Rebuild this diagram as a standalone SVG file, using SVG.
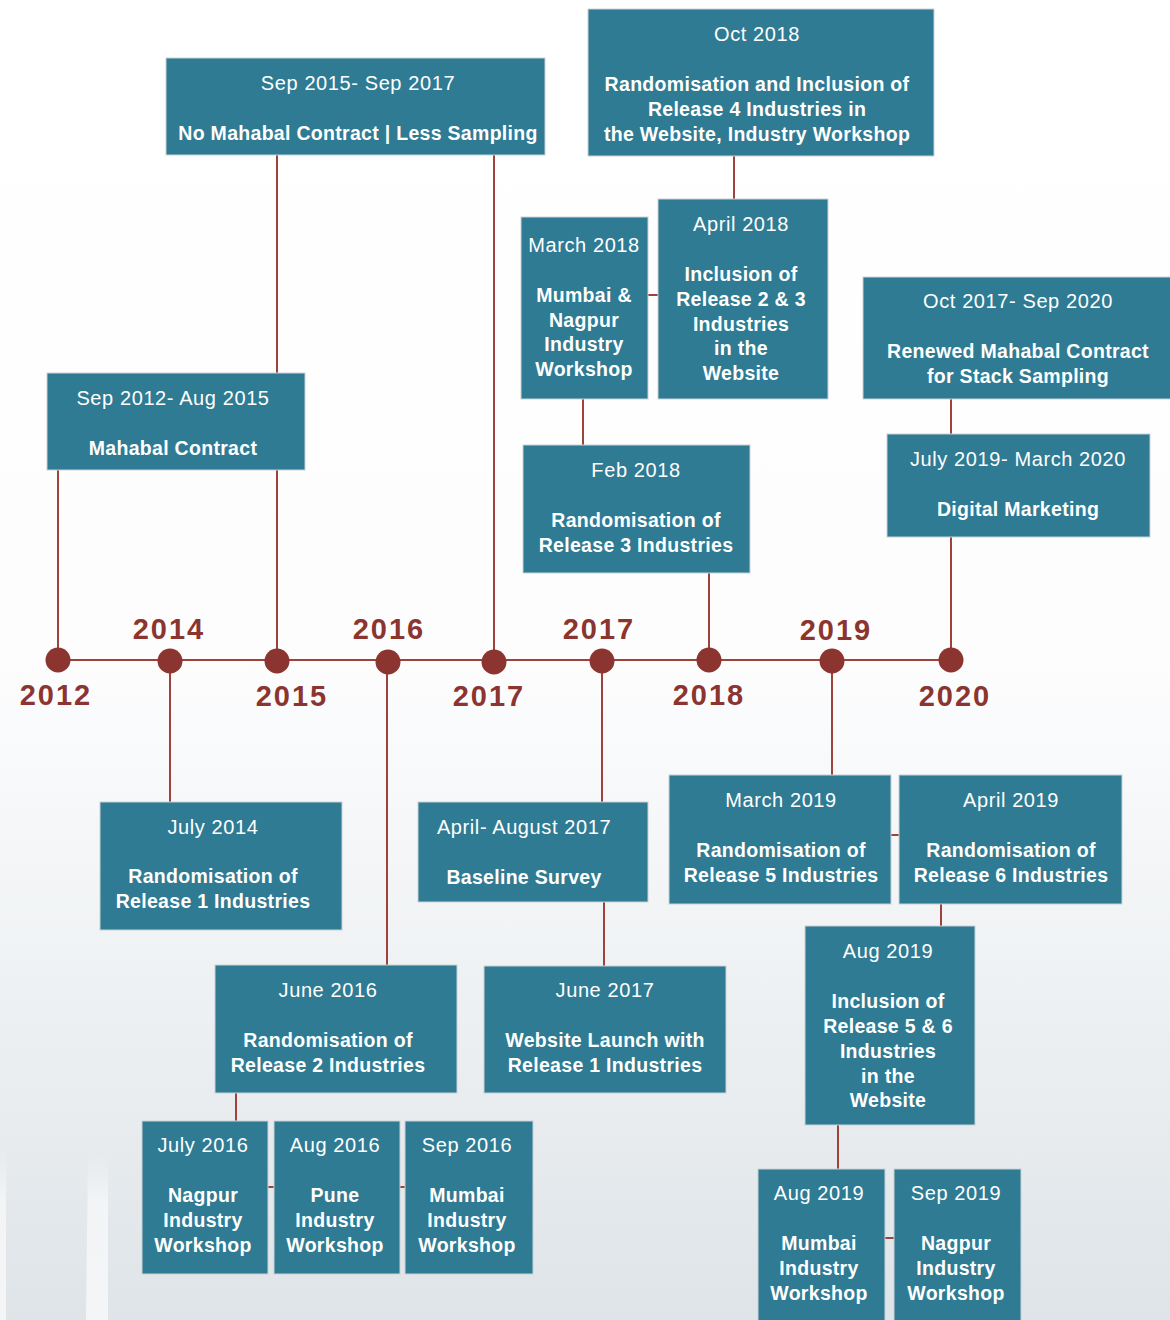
<svg xmlns="http://www.w3.org/2000/svg" width="1170" height="1320" viewBox="0 0 1170 1320">
<defs>
<linearGradient id="bg" x1="0" y1="0" x2="0" y2="1">
<stop offset="0" stop-color="#ffffff"/>
<stop offset="0.5" stop-color="#fdfdfe"/>
<stop offset="0.75" stop-color="#eef1f3"/>
<stop offset="1" stop-color="#dfe4e8"/>
</linearGradient>
<linearGradient id="py" x1="0" y1="0" x2="0" y2="1">
<stop offset="0" stop-color="#f4f6f7" stop-opacity="0"/>
<stop offset="0.3" stop-color="#f4f6f7" stop-opacity="0.9"/>
<stop offset="1" stop-color="#f6f7f8" stop-opacity="0.9"/>
</linearGradient>
<style>
.box{fill:#2e7b93;stroke:#c9d2d6;stroke-width:1}
.t{font-family:"Liberation Sans",Arial,sans-serif;fill:#ffffff;text-anchor:middle}
.d{font-weight:normal;font-size:20px;letter-spacing:0.6px}
.b{font-weight:bold;font-size:19.5px;letter-spacing:0.3px}
.c{stroke:#9e433c;stroke-width:2;fill:none}
.dot{fill:#8c3530}
.yr{font-family:"Liberation Sans",Arial,sans-serif;font-size:29px;font-weight:bold;fill:#8c3530;text-anchor:middle;letter-spacing:2px}
</style>
</defs>
<rect x="0" y="0" width="1170" height="1320" fill="url(#bg)"/>
<path d="M0 1150H6V1320H0Z" fill="url(#py)"/>
<path d="M88 1158Q98 1150 108 1158V1320H86Z" fill="url(#py)"/>
<g id="connectors">
<path class="c" d="M58 660H951"/>
<path class="c" d="M58 470V660"/>
<path class="c" d="M277 155V373M277 470V660"/>
<path class="c" d="M494 155V662"/>
<path class="c" d="M734 156V199"/>
<path class="c" d="M648 295H658"/>
<path class="c" d="M583 399V445"/>
<path class="c" d="M709 573V660"/>
<path class="c" d="M951 399V434M951 537V660"/>
<path class="c" d="M170 660V802"/>
<path class="c" d="M387 662V965"/>
<path class="c" d="M602 660V802"/>
<path class="c" d="M604 902V966"/>
<path class="c" d="M832 661V775"/>
<path class="c" d="M891 835H899"/>
<path class="c" d="M941 904V926"/>
<path class="c" d="M838 1125V1169"/>
<path class="c" d="M236 1093V1121"/>
<path class="c" d="M268 1187H274M400 1187H405"/>
<path class="c" d="M885 1238H894"/>
</g>
<g id="timeline">
<circle class="dot" cx="58" cy="660" r="12.5"/>
<circle class="dot" cx="170" cy="661" r="12.5"/>
<circle class="dot" cx="277" cy="661" r="12.5"/>
<circle class="dot" cx="388" cy="662" r="12.5"/>
<circle class="dot" cx="494" cy="662" r="12.5"/>
<circle class="dot" cx="602" cy="661" r="12.5"/>
<circle class="dot" cx="709" cy="660" r="12.5"/>
<circle class="dot" cx="832" cy="661" r="12.5"/>
<circle class="dot" cx="951" cy="660" r="12.5"/>
<text class="yr" x="56" y="705">2012</text>
<text class="yr" x="169" y="639">2014</text>
<text class="yr" x="292" y="706">2015</text>
<text class="yr" x="389" y="639">2016</text>
<text class="yr" x="489" y="706">2017</text>
<text class="yr" x="599" y="639">2017</text>
<text class="yr" x="709" y="705">2018</text>
<text class="yr" x="836" y="640">2019</text>
<text class="yr" x="955" y="706">2020</text>
</g>
<g id="n-sep2015">
<rect class="box" x="166" y="58" width="379" height="97"/>
<text class="t d" x="358" y="90">Sep 2015- Sep 2017</text>
<text class="t b" x="358" y="140">No Mahabal Contract | Less Sampling</text>
</g>
<g id="n-oct2018">
<rect class="box" x="588" y="9" width="346" height="147"/>
<text class="t d" x="757" y="41">Oct 2018</text>
<text class="t b" x="757" y="91">Randomisation and Inclusion of</text>
<text class="t b" x="757" y="116">Release 4 Industries in</text>
<text class="t b" x="757" y="141">the Website, Industry Workshop</text>
</g>
<g id="n-mar2018">
<rect class="box" x="521" y="217" width="127" height="182"/>
<text class="t d" x="584" y="252">March 2018</text>
<text class="t b" x="584" y="302">Mumbai &amp;</text>
<text class="t b" x="584" y="327">Nagpur</text>
<text class="t b" x="584" y="351">Industry</text>
<text class="t b" x="584" y="376">Workshop</text>
</g>
<g id="n-apr2018">
<rect class="box" x="658" y="199" width="170" height="200"/>
<text class="t d" x="741" y="231">April 2018</text>
<text class="t b" x="741" y="281">Inclusion of</text>
<text class="t b" x="741" y="306">Release 2 &amp; 3</text>
<text class="t b" x="741" y="331">Industries</text>
<text class="t b" x="741" y="355">in the</text>
<text class="t b" x="741" y="380">Website</text>
</g>
<g id="n-oct2017">
<rect class="box" x="863" y="277" width="310" height="122"/>
<text class="t d" x="1018" y="308">Oct 2017- Sep 2020</text>
<text class="t b" x="1018" y="358">Renewed Mahabal Contract</text>
<text class="t b" x="1018" y="383">for Stack Sampling</text>
</g>
<g id="n-sep2012">
<rect class="box" x="47" y="373" width="258" height="97"/>
<text class="t d" x="173" y="405">Sep 2012- Aug 2015</text>
<text class="t b" x="173" y="455">Mahabal Contract</text>
</g>
<g id="n-feb2018">
<rect class="box" x="523" y="445" width="227" height="128"/>
<text class="t d" x="636" y="477">Feb 2018</text>
<text class="t b" x="636" y="527">Randomisation of</text>
<text class="t b" x="636" y="552">Release 3 Industries</text>
</g>
<g id="n-jul2019">
<rect class="box" x="887" y="434" width="263" height="103"/>
<text class="t d" x="1018" y="466">July 2019- March 2020</text>
<text class="t b" x="1018" y="516">Digital Marketing</text>
</g>
<g id="n-jul2014">
<rect class="box" x="100" y="802" width="242" height="128"/>
<text class="t d" x="213" y="834">July 2014</text>
<text class="t b" x="213" y="883">Randomisation of</text>
<text class="t b" x="213" y="908">Release 1 Industries</text>
</g>
<g id="n-apr2017">
<rect class="box" x="418" y="802" width="230" height="100"/>
<text class="t d" x="524" y="834">April- August 2017</text>
<text class="t b" x="524" y="884">Baseline Survey</text>
</g>
<g id="n-mar2019">
<rect class="box" x="669" y="775" width="222" height="129"/>
<text class="t d" x="781" y="807">March 2019</text>
<text class="t b" x="781" y="857">Randomisation of</text>
<text class="t b" x="781" y="882">Release 5 Industries</text>
</g>
<g id="n-apr2019">
<rect class="box" x="899" y="775" width="223" height="129"/>
<text class="t d" x="1011" y="807">April 2019</text>
<text class="t b" x="1011" y="857">Randomisation of</text>
<text class="t b" x="1011" y="882">Release 6 Industries</text>
</g>
<g id="n-aug2019a">
<rect class="box" x="805" y="926" width="170" height="199"/>
<text class="t d" x="888" y="958">Aug 2019</text>
<text class="t b" x="888" y="1008">Inclusion of</text>
<text class="t b" x="888" y="1033">Release 5 &amp; 6</text>
<text class="t b" x="888" y="1058">Industries</text>
<text class="t b" x="888" y="1083">in the</text>
<text class="t b" x="888" y="1107">Website</text>
</g>
<g id="n-jun2016">
<rect class="box" x="215" y="965" width="242" height="128"/>
<text class="t d" x="328" y="997">June 2016</text>
<text class="t b" x="328" y="1047">Randomisation of</text>
<text class="t b" x="328" y="1072">Release 2 Industries</text>
</g>
<g id="n-jun2017">
<rect class="box" x="484" y="966" width="242" height="127"/>
<text class="t d" x="605" y="997">June 2017</text>
<text class="t b" x="605" y="1047">Website  Launch with</text>
<text class="t b" x="605" y="1072">Release 1 Industries</text>
</g>
<g id="n-jul2016">
<rect class="box" x="142" y="1121" width="126" height="153"/>
<text class="t d" x="203" y="1152">July 2016</text>
<text class="t b" x="203" y="1202">Nagpur</text>
<text class="t b" x="203" y="1227">Industry</text>
<text class="t b" x="203" y="1252">Workshop</text>
</g>
<g id="n-aug2016">
<rect class="box" x="274" y="1121" width="126" height="153"/>
<text class="t d" x="335" y="1152">Aug 2016</text>
<text class="t b" x="335" y="1202">Pune</text>
<text class="t b" x="335" y="1227">Industry</text>
<text class="t b" x="335" y="1252">Workshop</text>
</g>
<g id="n-sep2016">
<rect class="box" x="405" y="1121" width="128" height="153"/>
<text class="t d" x="467" y="1152">Sep 2016</text>
<text class="t b" x="467" y="1202">Mumbai</text>
<text class="t b" x="467" y="1227">Industry</text>
<text class="t b" x="467" y="1252">Workshop</text>
</g>
<g id="n-aug2019b">
<rect class="box" x="758" y="1169" width="127" height="155"/>
<text class="t d" x="819" y="1200">Aug 2019</text>
<text class="t b" x="819" y="1250">Mumbai</text>
<text class="t b" x="819" y="1275">Industry</text>
<text class="t b" x="819" y="1300">Workshop</text>
</g>
<g id="n-sep2019">
<rect class="box" x="894" y="1169" width="127" height="155"/>
<text class="t d" x="956" y="1200">Sep 2019</text>
<text class="t b" x="956" y="1250">Nagpur</text>
<text class="t b" x="956" y="1275">Industry</text>
<text class="t b" x="956" y="1300">Workshop</text>
</g>
</svg>
